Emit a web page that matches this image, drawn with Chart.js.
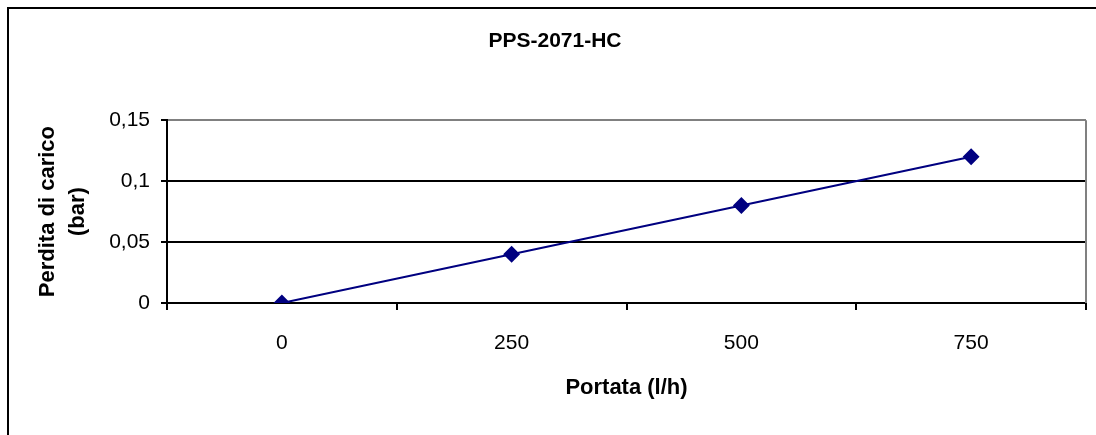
<!DOCTYPE html>
<html>
<head>
<meta charset="utf-8">
<script src="https://cdn.jsdelivr.net/npm/chart.js@4"></script>
<style>
  body { margin: 0; background: #fff; }
  #wrap { width: 1096px; height: 435px; }
</style>
</head>
<body>
<div id="wrap"><canvas id="chart" width="1096" height="435"></canvas></div>
<script>
// data
var categories = ['0', '250', '500', '750'];
var pressureDrop = [0, 0.04, 0.08, 0.12];
var yTickLabels = ['0', '0,05', '0,1', '0,15'];

var FONT = "'Liberation Sans', Arial, sans-serif";

// white page, outer frame and grey plot border
var framePlugin = {
    id: 'frame',
    beforeDraw: function (chart) {
        var c = chart.ctx;
        c.save();
        c.fillStyle = '#fff';
        c.fillRect(0, 0, chart.width, chart.height);
        c.restore();
    },
    beforeDatasetsDraw: function (chart) {
        var a = chart.chartArea, c = chart.ctx;
        c.save();
        c.strokeStyle = '#808080';
        c.lineWidth = 2;
        c.beginPath();
        c.moveTo(a.right, a.top);
        c.lineTo(a.right, a.bottom);
        c.stroke();
        c.restore();
    },
    afterDraw: function (chart) {
        var c = chart.ctx;
        c.save();
        c.strokeStyle = '#000';
        c.lineWidth = 2;
        c.beginPath();
        c.moveTo(8, chart.height);
        c.lineTo(8, 8);
        c.lineTo(chart.width, 8);
        c.stroke();
        c.restore();
    }
};

var ctx = document.getElementById('chart').getContext('2d');
var chart = new Chart(ctx, {
    type: 'line',
    data: {
        labels: categories,
        datasets: [{
            data: pressureDrop,
            borderColor: '#000080',
            backgroundColor: '#000080',
            borderWidth: 2,
            pointStyle: 'rectRot',
            pointRadius: 7,
            pointHoverRadius: 7,
            tension: 0
        }]
    },
    options: {
        responsive: false,
        animation: false,
        events: [],
        layout: { padding: { left: 24, top: 8, right: 10, bottom: 0 } },
        plugins: {
            legend: { display: false },
            tooltip: { enabled: false },
            title: {
                display: true,
                text: 'PPS-2071-HC',
                color: '#000',
                font: { family: FONT, size: 21, weight: 'bold', lineHeight: 1.2 },
                padding: { top: 21, bottom: 66 }
            }
        },
        scales: {
            x: {
                type: 'category',
                offset: true,
                grid: {
                    offset: true,
                    drawOnChartArea: false,
                    drawTicks: true,
                    tickLength: 7,
                    color: '#000',
                    tickColor: '#000',
                    lineWidth: 2
                },
                border: { color: '#000', width: 2 },
                ticks: {
                    color: '#000',
                    padding: 21,
                    maxRotation: 0,
                    font: { family: FONT, size: 21 }
                },
                title: {
                    display: true,
                    text: 'Portata (l/h)',
                    color: '#000',
                    font: { family: FONT, size: 22, weight: 'bold', lineHeight: 1.25 },
                    padding: { top: 0, bottom: 33 }
                },
                afterFit: function (scale) { scale.height = 132; }
            },
            y: {
                min: 0,
                max: 0.15,
                ticks: {
                    stepSize: 0.05,
                    color: '#000',
                    padding: 11,
                    font: { family: FONT, size: 21 },
                    callback: function (value, index) { return yTickLabels[index]; }
                },
                grid: {
                    color: function (c) { return c.index === yTickLabels.length - 1 ? '#808080' : '#000'; },
                    tickColor: '#000',
                    lineWidth: 2,
                    tickLength: 6
                },
                border: { color: '#000', width: 2 },
                title: {
                    display: true,
                    text: ['Perdita di carico', '(bar)'],
                    color: '#000',
                    font: { family: FONT, size: 22, weight: 'bold', lineHeight: 1.35 },
                    padding: { top: 9, bottom: 0 }
                },
                afterFit: function (scale) { scale.width = 143; }
            }
        }
    },
    plugins: [framePlugin]
});
</script>
</body>
</html>
